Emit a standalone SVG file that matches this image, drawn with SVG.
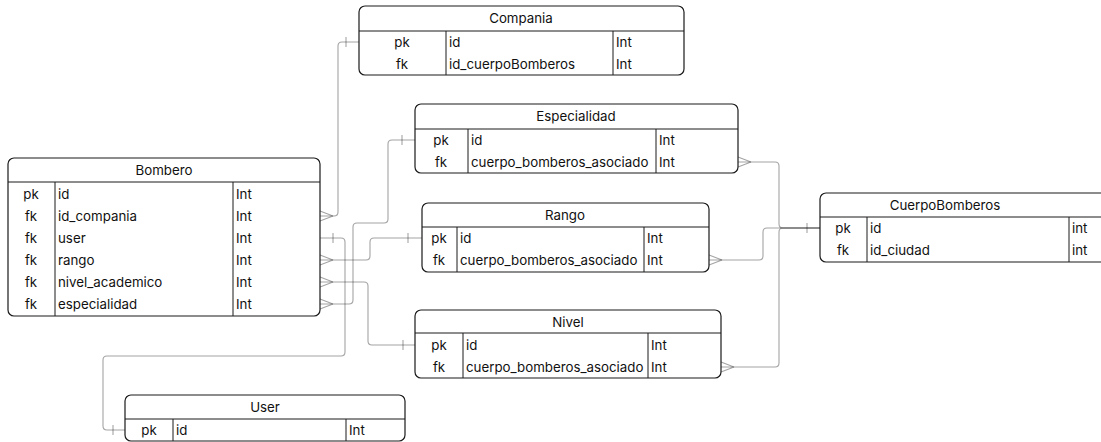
<svg xmlns="http://www.w3.org/2000/svg" width="1101" height="442" viewBox="0 0 1101 442">
  <style>
    .box { fill: #ffffff; stroke: #1a1a1a; stroke-width: 1.2; }
    .sep { stroke: #1a1a1a; stroke-width: 1; fill: none; }
    text { font-family: Inter, "Liberation Sans", sans-serif; font-size: 13.3px; fill: #111; }
    .hd { text-anchor: middle; }
    .key { text-anchor: middle; }
    .conn path { fill: none; stroke: #000; stroke-opacity: 0.36; stroke-width: 1.1; }
  </style>

  <!-- relationship lines -->
  <g id="connectors" class="conn">
    <!-- Bombero.id_compania -> Compania.id -->
    <path d="M320,216 H334 Q338,216 338,212 V46 Q338,42 342,42 H359"/>
    <path d="M333,216 L320,211 M333,216 L320,221"/>
    <path d="M346,37 V47"/>

    <!-- Bombero.user -> User.id -->
    <path d="M320,238 H341 Q345,238 345,242 V352 Q345,356 341,356 H107 Q103,356 103,360 V426 Q103,430 107,430 H125"/>
    <path d="M333,233 V243"/>
    <path d="M113,425 V435"/>

    <!-- Bombero.rango -> Rango.id -->
    <path d="M320,260 H366 Q370,260 370,256 V242 Q370,238 374,238 H422"/>
    <path d="M333,260 L320,255 M333,260 L320,265"/>
    <path d="M408,233 V243"/>

    <!-- Bombero.nivel_academico -> Nivel.id -->
    <path d="M320,282 H364 Q368,282 368,286 V341 Q368,345 372,345 H415"/>
    <path d="M333,282 L320,277 M333,282 L320,287"/>
    <path d="M403,340 V350"/>

    <!-- Bombero.especialidad -> Especialidad.id -->
    <path d="M320,304 H349 Q353,304 353,300 V227 Q353,223 357,223 H384 Q388,223 388,219 V144 Q388,140 392,140 H415"/>
    <path d="M333,304 L320,299 M333,304 L320,309"/>
    <path d="M402,135 V145"/>

    <!-- Especialidad.cuerpo_bomberos_asociado -> CuerpoBomberos.id -->
    <path d="M738,162 H775 Q779,162 779,166 V224 Q779,228 783,228 H820"/>
    <path d="M751,162 L738,157 M751,162 L738,167"/>

    <!-- Nivel.cuerpo_bomberos_asociado -> CuerpoBomberos.id -->
    <path d="M721,367 H775 Q779,367 779,363 V232 Q779,228 783,228 H820"/>
    <path d="M734,367 L721,362 M734,367 L721,372"/>

    <!-- Rango.cuerpo_bomberos_asociado -> CuerpoBomberos.id -->
    <path d="M709,260 H759 Q763,260 763,256 V232 Q763,228 767,228 H820"/>
    <path d="M722,260 L709,255 M722,260 L709,265"/>
    <path d="M807,223 V233"/>
  </g>

  <!-- Compania -->
  <g id="compania">
    <rect class="box" x="359" y="6" width="325" height="69" rx="6"/>
    <path class="sep" d="M359,31 H684 M446,31 V75 M613,31 V75"/>
    <text class="hd" x="521" y="23">Compania</text>
    <text class="key" x="402" y="47">pk</text>
    <text x="449" y="47">id</text>
    <text x="616" y="47">Int</text>
    <text class="key" x="402" y="69">fk</text>
    <text x="449" y="69">id_cuerpoBomberos</text>
    <text x="616" y="69">Int</text>
  </g>

  <!-- Especialidad -->
  <g id="especialidad">
    <rect class="box" x="415" y="104" width="323" height="69" rx="6"/>
    <path class="sep" d="M415,129 H738 M468,129 V173 M656,129 V173"/>
    <text class="hd" x="576" y="121">Especialidad</text>
    <text class="key" x="441" y="145">pk</text>
    <text x="471" y="145">id</text>
    <text x="659" y="145">Int</text>
    <text class="key" x="441" y="167">fk</text>
    <text x="471" y="167">cuerpo_bomberos_asociado</text>
    <text x="659" y="167">Int</text>
  </g>

  <!-- Bombero -->
  <g id="bombero">
    <rect class="box" x="8" y="158" width="312" height="158" rx="6"/>
    <path class="sep" d="M8,182 H320 M55,182 V316 M233,182 V316"/>
    <text class="hd" x="164" y="175">Bombero</text>
    <text class="key" x="31" y="199">pk</text>
    <text x="58" y="199">id</text>
    <text x="236" y="199">Int</text>
    <text class="key" x="31" y="221">fk</text>
    <text x="58" y="221">id_compania</text>
    <text x="236" y="221">Int</text>
    <text class="key" x="31" y="243">fk</text>
    <text x="58" y="243">user</text>
    <text x="236" y="243">Int</text>
    <text class="key" x="31" y="265">fk</text>
    <text x="58" y="265">rango</text>
    <text x="236" y="265">Int</text>
    <text class="key" x="31" y="287">fk</text>
    <text x="58" y="287">nivel_academico</text>
    <text x="236" y="287">Int</text>
    <text class="key" x="31" y="309">fk</text>
    <text x="58" y="309">especialidad</text>
    <text x="236" y="309">Int</text>
  </g>

  <!-- Rango -->
  <g id="rango">
    <rect class="box" x="422" y="203" width="287" height="69" rx="6"/>
    <path class="sep" d="M422,227 H709 M457,227 V272 M644,227 V272"/>
    <text class="hd" x="565" y="220">Rango</text>
    <text class="key" x="439" y="243">pk</text>
    <text x="460" y="243">id</text>
    <text x="647" y="243">Int</text>
    <text class="key" x="439" y="265">fk</text>
    <text x="460" y="265">cuerpo_bomberos_asociado</text>
    <text x="647" y="265">Int</text>
  </g>

  <!-- CuerpoBomberos -->
  <g id="cuerpobomberos">
    <rect class="box" x="820" y="193" width="300" height="69" rx="6"/>
    <path class="sep" d="M820,217 H1120 M867,217 V262 M1069,217 V262"/>
    <text class="hd" x="945" y="210">CuerpoBomberos</text>
    <text class="key" x="843" y="233">pk</text>
    <text x="870" y="233">id</text>
    <text x="1072" y="233">int</text>
    <text class="key" x="843" y="255">fk</text>
    <text x="870" y="255">id_ciudad</text>
    <text x="1072" y="255">int</text>
  </g>

  <!-- Nivel -->
  <g id="nivel">
    <rect class="box" x="415" y="310" width="306" height="68" rx="6"/>
    <path class="sep" d="M415,333 H721 M463,333 V378 M648,333 V378"/>
    <text class="hd" x="568" y="327">Nivel</text>
    <text class="key" x="439" y="350">pk</text>
    <text x="466" y="350">id</text>
    <text x="651" y="350">Int</text>
    <text class="key" x="439" y="372">fk</text>
    <text x="466" y="372">cuerpo_bomberos_asociado</text>
    <text x="651" y="372">Int</text>
  </g>

  <!-- User -->
  <g id="user">
    <rect class="box" x="125" y="395" width="280" height="46" rx="6"/>
    <path class="sep" d="M125,419 H405 M173,419 V441 M346,419 V441"/>
    <text class="hd" x="265" y="412">User</text>
    <text class="key" x="149" y="435">pk</text>
    <text x="176" y="435">id</text>
    <text x="349" y="435">Int</text>
  </g>
</svg>
